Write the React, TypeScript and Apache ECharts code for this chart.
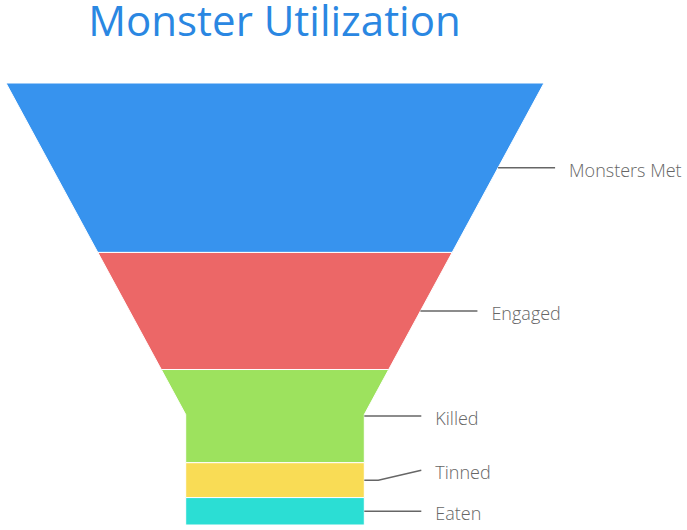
import React, { useEffect, useRef } from "react";
import * as echarts from "echarts";

const titleText = "Monster Utilization";
const categories = ["Monsters Met", "Engaged", "Killed", "Tinned", "Eaten"];
const values = [340, 235, 187, 70, 55];
const palette = ["#3793ee", "#ec6767", "#9de25e", "#f9dc55", "#2bded4"];

const total = values.reduce((a, b) => a + b, 0);
const starts: number[] = [];
values.reduce((acc, v) => {
  starts.push(acc);
  return acc + v;
}, 0);
const seriesData = values.map((v, i) => [starts[i], starts[i] + v, i]);

const NECK_W = 0.332; // neck half-width as fraction of top half-width
const NECK_H = 0.75; // fraction of height where neck starts
const neckY = total * NECK_H;
const hw = (v: number) => (v >= neckY ? NECK_W : 1 - (1 - NECK_W) * (v / neckY));

export default function App() {
  const ref = useRef<HTMLDivElement>(null);
  useEffect(() => {
    if (!ref.current) return;
    const chart = echarts.init(ref.current, undefined, { renderer: "svg" });
    const option: any = {
      animation: false,
      backgroundColor: "#ffffff",
      title: {
        text: titleText,
        left: 274.5,
        top: 4,
        padding: 0,
        textAlign: "center",
        textStyle: {
          fontFamily: "Open Sans",
          fontSize: 42,
          lineHeight: 30,
          fontWeight: "normal",
          color: "#2a87e2",
        },
      },
      grid: { left: 6, right: 143, top: 83, bottom: 5 },
      xAxis: { type: "value", min: -1, max: 1, show: false },
      yAxis: { type: "value", min: 0, max: total, inverse: true, show: false },
      series: [
        {
          type: "custom",
          clip: false,
          encode: { y: [0, 1] },
          data: seriesData,
          renderItem: (params: any, api: any) => {
            const y0 = api.value(0);
            const y1 = api.value(1);
            const idx = api.value(2);
            const right: number[][] = [[hw(y0), y0]];
            const left: number[][] = [];
            if (y0 < neckY && y1 > neckY) right.push([NECK_W, neckY]);
            right.push([hw(y1), y1]);
            left.push([-hw(y1), y1]);
            if (y0 < neckY && y1 > neckY) left.push([-NECK_W, neckY]);
            left.push([-hw(y0), y0]);
            const pts = [...right, ...left].map((p) => api.coord(p));

            // label positions with simple overlap avoidance (bottom-up)
            const mids = values.map((v, i) => api.coord([0, starts[i] + v / 2])[1]);
            const labelYs = mids.slice();
            const minGap = 41;
            for (let j = labelYs.length - 2; j >= 0; j--) {
              if (labelYs[j] > labelYs[j + 1] - minGap) labelYs[j] = labelYs[j + 1] - minGap;
            }
            const midV = (y0 + y1) / 2;
            const edge = api.coord([hw(midV), midV]);
            const ly = labelYs[idx];
            return {
              type: "group",
              children: [
                {
                  type: "polygon",
                  shape: { points: pts },
                  style: { fill: palette[idx], stroke: "#ffffff", lineWidth: 1 },
                },
                {
                  type: "polyline",
                  shape: {
                    points: [
                      [edge[0], edge[1]],
                      [edge[0] + 14, edge[1]],
                      [edge[0] + 57, ly],
                    ],
                  },
                  style: { stroke: "#666666", lineWidth: 1.5, fill: null },
                },
                {
                  type: "text",
                  x: edge[0] + 71,
                  y: ly + 2,
                  style: {
                    text: categories[idx],
                    fill: "#666666",
                    fontFamily: "Open Sans",
                    fontWeight: 300,
                    fontSize: 18,
                    verticalAlign: "middle",
                    align: "left",
                  },
                },
              ],
            };
          },
        },
      ],
    };
    chart.setOption(option);
    return () => chart.dispose();
  }, []);
  return (
    <div
      ref={ref}
      style={{ position: "fixed", left: 0, top: 0, width: 687, height: 530 }}
    />
  );
}
